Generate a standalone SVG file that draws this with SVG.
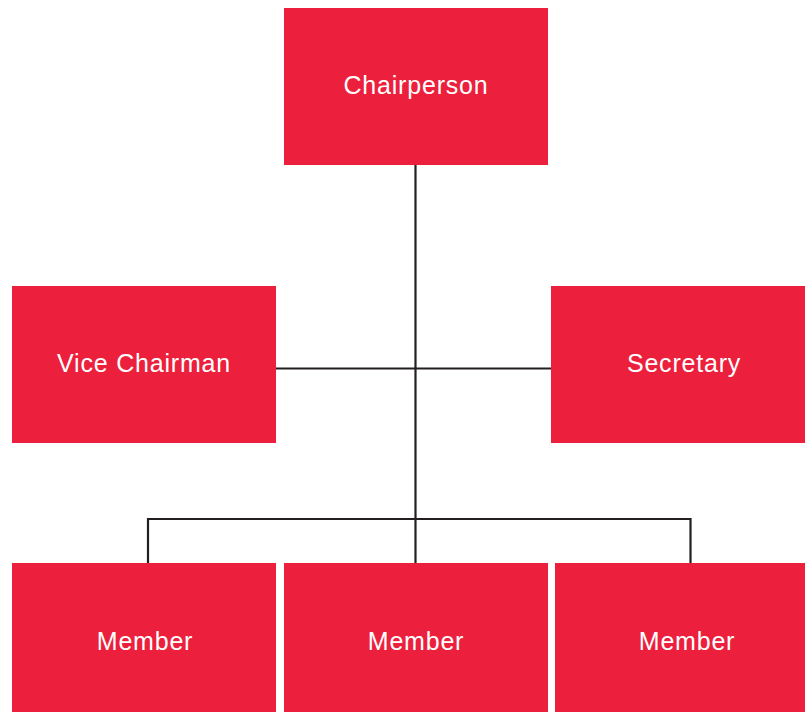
<svg xmlns="http://www.w3.org/2000/svg" width="805" height="712" viewBox="0 0 805 712">
  <style>
    .box { fill: #EC1F3C; }
    .label { fill: #FFFFFF; font-family: "Liberation Sans", Arial, sans-serif; font-size: 25px; letter-spacing: 0.8px; text-anchor: middle; }
    .wire { fill: none; stroke: #231F20; stroke-width: 2.2; }
  </style>
  <rect width="805" height="712" fill="#FFFFFF"/>

  <!-- connectors -->
  <g id="connectors">
    <line class="wire" x1="415.5" y1="164" x2="415.5" y2="563"/>
    <line class="wire" x1="275" y1="368.5" x2="552" y2="368.5"/>
    <polyline class="wire" points="148,563 148,519 690.5,519 690.5,563"/>
  </g>

  <g id="chairperson">
    <rect class="box" x="284" y="8" width="264" height="157"/>
    <text class="label" x="416" y="94">Chairperson</text>
  </g>

  <g id="vice-chairman">
    <rect class="box" x="12" y="286" width="264" height="157"/>
    <text class="label" x="144" y="372">Vice Chairman</text>
  </g>

  <g id="secretary">
    <rect class="box" x="551" y="286" width="264" height="157"/>
    <text class="label" x="684" y="372">Secretary</text>
  </g>

  <g id="member-1">
    <rect class="box" x="12" y="563" width="264" height="157"/>
    <text class="label" x="145" y="650">Member</text>
  </g>

  <g id="member-2">
    <rect class="box" x="284" y="563" width="264" height="157"/>
    <text class="label" x="416" y="650">Member</text>
  </g>

  <g id="member-3">
    <rect class="box" x="555" y="563" width="264" height="157"/>
    <text class="label" x="687" y="650">Member</text>
  </g>
</svg>
